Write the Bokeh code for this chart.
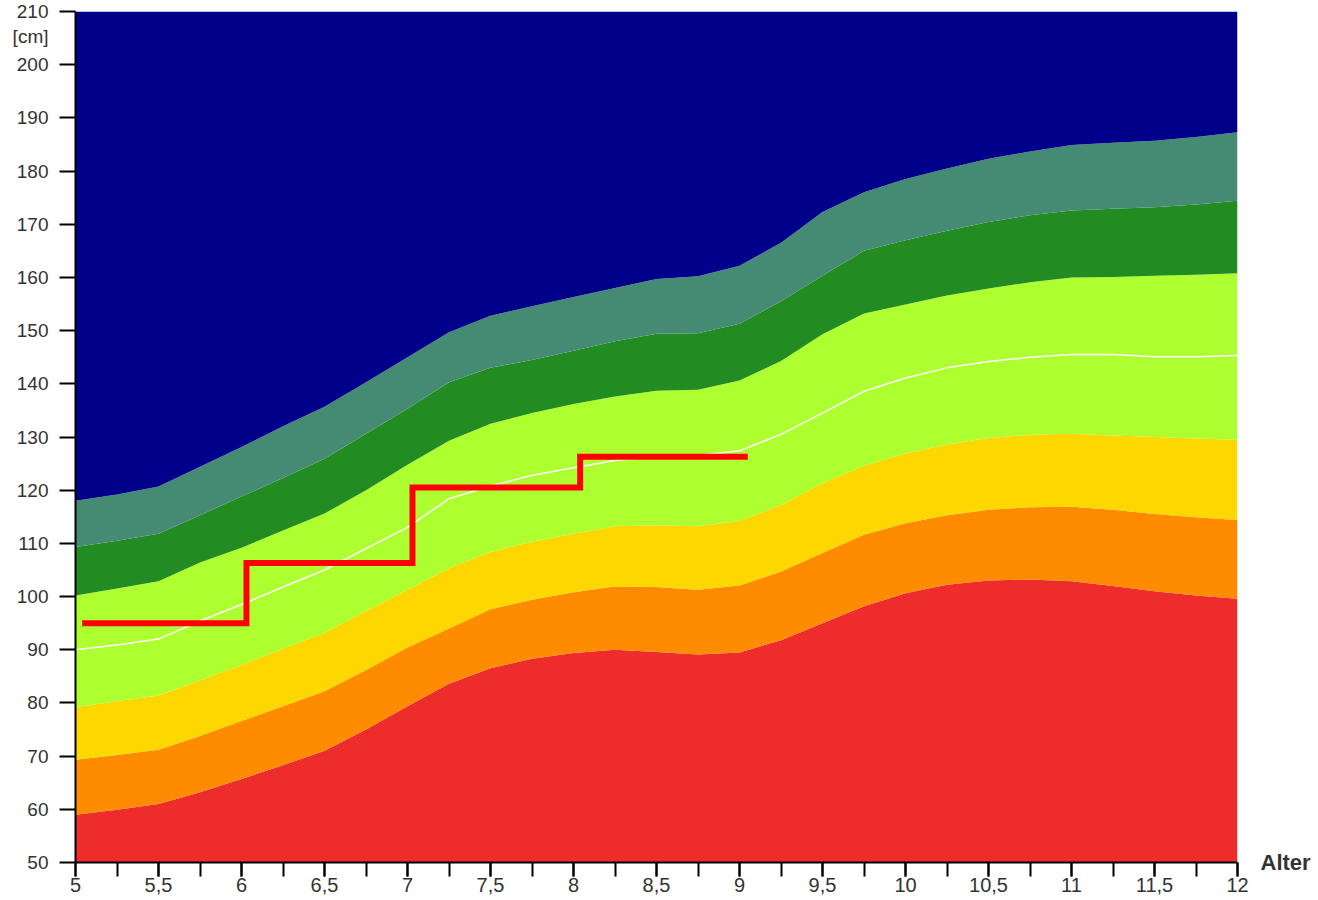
from bokeh.plotting import figure
from bokeh.models import Range1d, FixedTicker, CustomJSTickFormatter, LinearAxis
from bokeh.embed import file_html
from bokeh.resources import INLINE

# ---- data ----
ages = [5.0, 5.25, 5.5, 5.75, 6.0, 6.25, 6.5, 6.75, 7.0, 7.25, 7.5, 7.75, 8.0, 8.25,
        8.5, 8.75, 9.0, 9.25, 9.5, 9.75, 10.0, 10.25, 10.5, 10.75, 11.0, 11.25, 11.5,
        11.75, 12.0]
p_red = [59.0, 59.9, 61.0, 63.2, 65.7, 68.3, 71.0, 75.0, 79.4, 83.6, 86.5, 88.3, 89.4,
         90.0, 89.6, 89.1, 89.5, 91.8, 95.0, 98.2, 100.6, 102.2, 103.0, 103.2, 102.9,
         102.0, 101.0, 100.2, 99.6]
p_orange = [69.3, 70.2, 71.2, 73.8, 76.6, 79.4, 82.2, 86.2, 90.4, 94.0, 97.6, 99.4, 100.8,
            101.9, 101.8, 101.3, 102.1, 104.7, 108.2, 111.6, 113.8, 115.3, 116.3, 116.8,
            116.9, 116.3, 115.5, 114.9, 114.4]
p_yellow = [79.2, 80.3, 81.4, 84.2, 87.2, 90.2, 93.2, 97.3, 101.3, 105.3, 108.4, 110.3,
            111.8, 113.2, 113.4, 113.2, 114.2, 117.2, 121.3, 124.6, 126.9, 128.6, 129.8,
            130.4, 130.6, 130.3, 130.0, 129.7, 129.5]
median = [90.0, 90.9, 92.0, 95.4, 98.5, 101.8, 105.0, 109.0, 113.0, 118.4, 120.8, 122.8,
          124.2, 125.6, 126.3, 126.5, 127.4, 130.5, 134.5, 138.6, 141.1, 143.0, 144.2,
          145.0, 145.5, 145.5, 145.1, 145.1, 145.3]
p_lime = [100.2, 101.5, 102.9, 106.4, 109.2, 112.4, 115.6, 120.0, 124.8, 129.3, 132.5,
          134.5, 136.2, 137.6, 138.7, 138.9, 140.6, 144.3, 149.3, 153.2, 154.9, 156.6,
          157.9, 159.1, 160.0, 160.1, 160.3, 160.5, 160.8]
p_green = [109.3, 110.5, 111.8, 115.3, 118.8, 122.3, 125.9, 130.6, 135.3, 140.3, 143.0,
           144.5, 146.2, 148.0, 149.4, 149.5, 151.3, 155.5, 160.3, 165.0, 167.0, 168.8,
           170.4, 171.7, 172.6, 172.9, 173.2, 173.7, 174.4]
p_sea = [118.0, 119.2, 120.7, 124.4, 128.1, 132.0, 135.7, 140.3, 145.0, 149.7, 152.8,
         154.6, 156.3, 158.0, 159.7, 160.2, 162.2, 166.5, 172.3, 176.0, 178.5, 180.5,
         182.3, 183.7, 184.9, 185.3, 185.7, 186.4, 187.3]

child_age = [5.04, 6.03, 7.03, 8.04, 9.05]
child_height = [95.0, 106.3, 120.5, 126.3, 126.3]

x_ticks = [5, 5.5, 6, 6.5, 7, 7.5, 8, 8.5, 9, 9.5, 10, 10.5, 11, 11.5, 12]
x_minor = [5 + 0.25 * i for i in range(29)]
y_ticks = [50, 60, 70, 80, 90, 100, 110, 120, 130, 140, 150, 160, 170, 180, 190, 200, 210]
y_min, y_max = 50, 210
y_unit = "[cm]"
x_title = "Alter"

# ---- figure ----
p = figure(width=1318, height=900, output_backend="svg", toolbar_location=None,
           x_range=Range1d(5, 12), y_range=Range1d(y_min, y_max),
           min_border_left=75, min_border_right=81, min_border_top=11, min_border_bottom=38)
p.outline_line_color = None
p.xgrid.visible = False
p.ygrid.visible = False

floor = [y_min] * len(ages)
ceil = [y_max] * len(ages)
bands = [
    (floor, p_red, "#EE2C2C"),
    (p_red, p_orange, "#FF8C00"),
    (p_orange, p_yellow, "#FFD700"),
    (p_yellow, p_lime, "#ADFF2F"),
    (p_lime, p_green, "#228B22"),
    (p_green, p_sea, "#458B74"),
    (p_sea, ceil, "#00008B"),
]
for lo, hi, col in bands:
    p.varea(x=ages, y1=lo, y2=hi, fill_color=col)

p.line(ages, median, line_color="white", line_width=1.5)
p.step(child_age, child_height, mode="after", line_color="#FF0000", line_width=6,
       line_join="miter")

font = "Liberation Sans"
txt = "#333333"

# x axis
xa = p.xaxis[0]
xa.ticker = FixedTicker(ticks=x_ticks, minor_ticks=x_minor)
xa.formatter = CustomJSTickFormatter(code="return String(tick).replace('.', ',');")
xa.axis_line_color = "black"
xa.axis_line_width = 2
xa.major_tick_line_color = "black"
xa.minor_tick_line_color = "black"
xa.major_tick_line_width = 2
xa.minor_tick_line_width = 2
xa.major_tick_in = 0
xa.minor_tick_in = 0
xa.major_tick_out = 14
xa.minor_tick_out = 14
xa.major_label_standoff = 1
xa.major_label_text_font = font
xa.major_label_text_font_size = "20px"
xa.major_label_text_color = txt

# y axis (unit shown under the top tick label)
ya = p.yaxis[0]
ya.ticker = FixedTicker(ticks=y_ticks, minor_ticks=[])
ya.formatter = CustomJSTickFormatter(
    args=dict(top=y_max, unit=y_unit),
    code="return (tick == top) ? (String(tick) + '\\n' + unit) : String(tick);")
ya.axis_line_color = "black"
ya.axis_line_width = 2
ya.major_tick_line_color = "black"
ya.major_tick_line_width = 2
ya.major_tick_in = 0
ya.major_tick_out = 16
ya.minor_tick_out = 0
ya.minor_tick_in = 0
ya.major_label_standoff = 11
ya.major_label_text_font = font
ya.major_label_text_font_size = "19px"
ya.major_label_text_color = txt

# x title at the right end of the x axis, via an axis on the right side
ra = LinearAxis(ticker=FixedTicker(ticks=[y_min], minor_ticks=[]),
                formatter=CustomJSTickFormatter(args=dict(t=x_title), code="return t;"))
ra.axis_line_color = None
ra.major_tick_line_color = None
ra.minor_tick_line_color = None
ra.major_tick_in = 0
ra.major_tick_out = 0
ra.minor_tick_in = 0
ra.minor_tick_out = 0
ra.major_label_standoff = 23
ra.major_label_text_font = font
ra.major_label_text_font_size = "22px"
ra.major_label_text_font_style = "bold"
ra.major_label_text_color = txt
p.add_layout(ra, "right")

open("out.html", "w").write(file_html(p, INLINE))
